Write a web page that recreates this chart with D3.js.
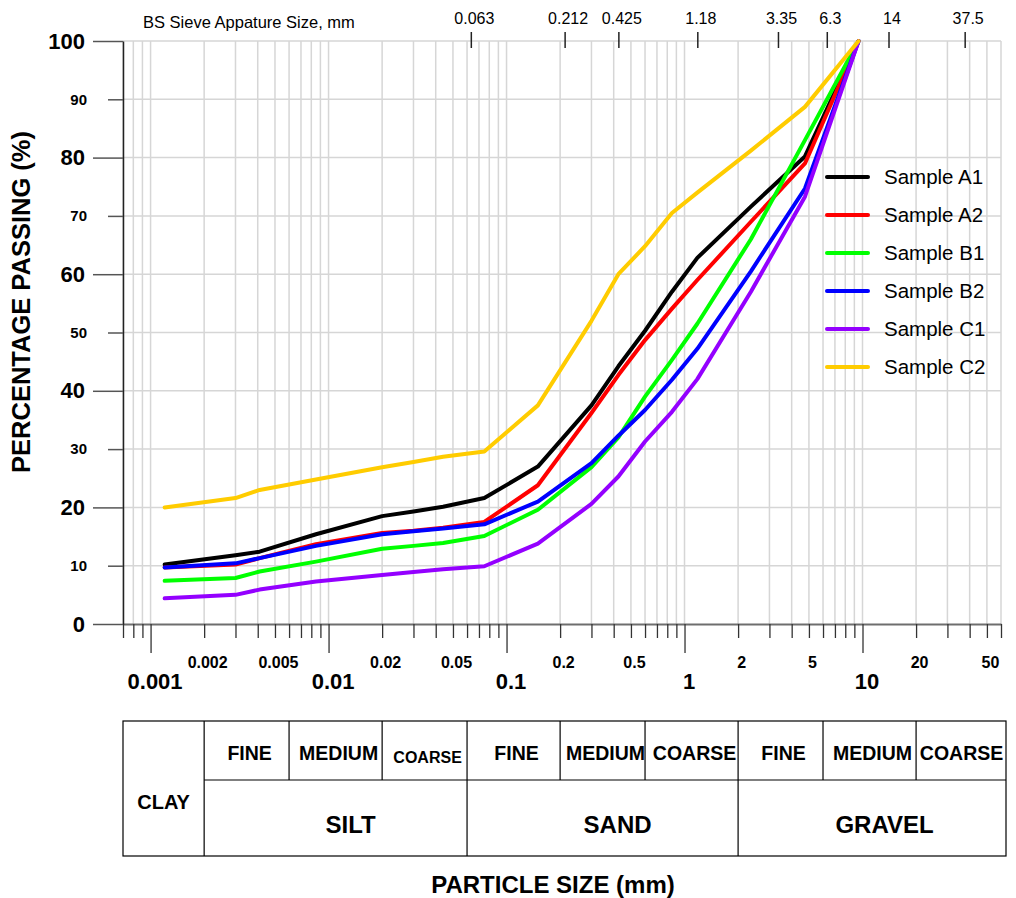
<!DOCTYPE html>
<html>
<head>
<meta charset="utf-8">
<script src="https://cdn.jsdelivr.net/npm/d3@7"></script>
<style>
  body { margin: 0; background: #fff; }
  svg { display: block; font-family: "Liberation Sans", Arial, sans-serif; }
</style>
</head>
<body>
<div class="viz"></div>
<script>
// particle sizes (mm) of the readings, hydrometer then sieves
var sizes = [0.0012, 0.003, 0.0041, 0.0085, 0.02, 0.03, 0.044, 0.075, 0.15, 0.3, 0.425, 0.6, 0.85, 1.18, 2.36, 4.75, 9.5];

var sampleA1 = [10.2, 11.8, 12.4, 15.4, 18.5, 19.3, 20.1, 21.6, 27.0, 37.5, 44.2, 50.3, 57.0, 62.8, 71.6, 80.2, 100];
var sampleA2 = [9.7, 10.2, 11.3, 13.7, 15.6, 16.0, 16.5, 17.5, 23.8, 36.2, 42.7, 48.7, 54.1, 59.0, 69.0, 79.0, 100];
var sampleB1 = [7.4, 7.9, 9.0, 10.7, 12.9, 13.4, 13.9, 15.1, 19.6, 26.9, 32.0, 39.0, 45.3, 51.5, 66.0, 83.0, 100];
var sampleB2 = [9.7, 10.4, 11.3, 13.4, 15.4, 15.9, 16.4, 17.1, 21.0, 27.6, 32.3, 36.7, 41.9, 47.2, 60.5, 74.7, 100];
var sampleC1 = [4.4, 5.0, 5.9, 7.3, 8.4, 8.9, 9.4, 9.9, 13.8, 20.6, 25.3, 31.3, 36.4, 42.0, 57.0, 73.3, 100];
var sampleC2 = [20.0, 21.6, 23.0, 24.8, 26.9, 27.8, 28.7, 29.6, 37.5, 52.0, 60.0, 64.8, 70.5, 74.0, 81.2, 88.7, 100];

var seriesNames = ["Sample A1", "Sample A2", "Sample B1", "Sample B2", "Sample C1", "Sample C2"];
var seriesColors = ["#000000", "#ff0000", "#00ff00", "#0000ff", "#9400ff", "#ffcc00"];
var seriesValues = [sampleA1, sampleA2, sampleB1, sampleB2, sampleC1, sampleC2];

// BS sieve apertures on the top axis
var sieveSizes = [0.063, 0.212, 0.425, 1.18, 3.35, 6.3, 14, 37.5];
var sieveLabels = ["0.063", "0.212", "0.425", "1.18", "3.35", "6.3", "14", "37.5"];

var decadeTicks = [0.001, 0.01, 0.1, 1, 10];
var decadeLabels = ["0.001", "0.01", "0.1", "1", "10"];
var minorLabelTicks = [0.002, 0.005, 0.02, 0.05, 0.2, 0.5, 2, 5, 20, 50];
var minorLabels = ["0.002", "0.005", "0.02", "0.05", "0.2", "0.5", "2", "5", "20", "50"];

var yMajorTicks = [0, 20, 40, 60, 80, 100];
var yMinorTicks = [10, 30, 50, 70, 90];

// soil classification table
var mainNames = ["CLAY", "SILT", "SAND", "GRAVEL"];
var mainBounds = [0.0007, 0.002, 0.06, 2, 60];
var subNames = ["FINE", "MEDIUM", "COARSE", "FINE", "MEDIUM", "COARSE", "FINE", "MEDIUM", "COARSE"];
var subBounds = [0.002, 0.006, 0.02, 0.06, 0.2, 0.6, 2, 6, 20, 60];

var width = 1016, height = 898;
var plot = { left: 123, right: 1001, top: 41, bottom: 624 };

var x = d3.scaleLog().domain([0.0007, 60]).range([plot.left, plot.right]);
var y = d3.scaleLinear().domain([0, 100]).range([plot.bottom, plot.top]);

var gridX = [];
for (var e = -4; e <= 1; e++) {
  for (var m = 1; m <= 9; m++) {
    var v = +(m * Math.pow(10, e)).toPrecision(3);
    if (v >= 0.0007 && v <= 60) gridX.push(v);
  }
}

var svg = d3.select(".viz").append("svg")
  .attr("width", width)
  .attr("height", height);

// grid
svg.append("g").selectAll("line")
  .data(gridX).enter().append("line")
  .attr("x1", function (d) { return x(d); })
  .attr("x2", function (d) { return x(d); })
  .attr("y1", plot.top).attr("y2", plot.bottom)
  .attr("stroke", "#d6d6d6").attr("stroke-width", 1.5);

svg.append("g").selectAll("line")
  .data(d3.range(10, 101, 10)).enter().append("line")
  .attr("x1", plot.left).attr("x2", plot.right)
  .attr("y1", function (d) { return y(d); })
  .attr("y2", function (d) { return y(d); })
  .attr("stroke", "#d6d6d6").attr("stroke-width", 1.5);

// bottom axis: ticks
var minorTicks = gridX.filter(function (d) { return decadeTicks.indexOf(d) < 0; });

var xMinor = svg.append("g")
  .attr("transform", "translate(0," + plot.bottom + ")")
  .call(d3.axisBottom(x).tickValues(minorTicks).tickSize(14).tickSizeOuter(0).tickFormat(""));
xMinor.select(".domain").attr("stroke", "#6e6e6e").attr("stroke-width", 2);
xMinor.selectAll(".tick line").attr("stroke", "#333").attr("stroke-width", 1.3);

var xMajor = svg.append("g")
  .attr("transform", "translate(0," + plot.bottom + ")")
  .call(d3.axisBottom(x).tickValues(decadeTicks).tickSize(29).tickPadding(20)
    .tickFormat(function (d, i) { return decadeLabels[i]; }));
xMajor.select(".domain").remove();
xMajor.selectAll(".tick line").attr("stroke", "#333").attr("stroke-width", 1.3);
xMajor.selectAll("text")
  .attr("font-size", 22).attr("font-weight", "bold").attr("fill", "#000")
  .attr("font-family", "Liberation Sans, Arial, sans-serif").attr("dx", 4);

var xMinorLab = svg.append("g")
  .attr("transform", "translate(0," + plot.bottom + ")")
  .call(d3.axisBottom(x).tickValues(minorLabelTicks).tickSize(0).tickPadding(33)
    .tickFormat(function (d, i) { return minorLabels[i]; }));
xMinorLab.select(".domain").remove();
xMinorLab.selectAll("text")
  .attr("font-size", 16).attr("font-weight", "bold").attr("fill", "#000")
  .attr("font-family", "Liberation Sans, Arial, sans-serif").attr("dx", 3);

// top axis: sieve sizes
var xTop = svg.append("g")
  .attr("transform", "translate(0,48)")
  .call(d3.axisTop(x).tickValues(sieveSizes).tickSize(16).tickPadding(8)
    .tickFormat(function (d, i) { return sieveLabels[i]; }));
xTop.select(".domain").remove();
xTop.selectAll(".tick line").attr("stroke", "#222").attr("stroke-width", 1.5);
xTop.selectAll("text")
  .attr("font-size", 16).attr("fill", "#000")
  .attr("font-family", "Liberation Sans, Arial, sans-serif").attr("dx", 3);

svg.append("text")
  .attr("x", 143).attr("y", 28)
  .attr("font-size", 16.5)
  .text("BS Sieve Appature Size, mm");

// left axis
var yMaj = svg.append("g")
  .attr("transform", "translate(" + plot.left + ",0)")
  .call(d3.axisLeft(y).tickValues(yMajorTicks).tickSize(30).tickSizeOuter(0).tickPadding(8));
yMaj.select(".domain").attr("stroke", "#222").attr("stroke-width", 1.5);
yMaj.selectAll(".tick line").attr("stroke", "#555").attr("stroke-width", 1.5);
yMaj.selectAll("text")
  .attr("font-size", 22).attr("font-weight", "bold").attr("fill", "#000")
  .attr("font-family", "Liberation Sans, Arial, sans-serif");

var yMin = svg.append("g")
  .attr("transform", "translate(" + plot.left + ",0)")
  .call(d3.axisLeft(y).tickValues(yMinorTicks).tickSize(15).tickPadding(21));
yMin.select(".domain").remove();
yMin.selectAll(".tick line").attr("stroke", "#555").attr("stroke-width", 1.5);
yMin.selectAll("text")
  .attr("font-size", 15).attr("font-weight", "bold").attr("fill", "#000")
  .attr("font-family", "Liberation Sans, Arial, sans-serif");

svg.append("text")
  .attr("transform", "translate(30,302) rotate(-90)")
  .attr("text-anchor", "middle")
  .attr("font-size", 25.5).attr("font-weight", "bold")
  .text("PERCENTAGE PASSING (%)");

// curves
var line = d3.line()
  .x(function (d) { return x(d[0]); })
  .y(function (d) { return y(d[1]); });

svg.append("g").selectAll("path")
  .data(seriesValues).enter().append("path")
  .attr("d", function (vals) { return line(vals.map(function (val, i) { return [sizes[i], val]; })); })
  .attr("fill", "none")
  .attr("stroke", function (d, i) { return seriesColors[i]; })
  .attr("stroke-width", 4)
  .attr("stroke-linejoin", "round")
  .attr("stroke-linecap", "round");

// legend
var legend = svg.append("g").selectAll("g")
  .data(seriesNames).enter().append("g")
  .attr("transform", function (d, i) { return "translate(0," + (177 + i * 38) + ")"; });

legend.append("line")
  .attr("x1", 827).attr("x2", 868)
  .attr("stroke", function (d, i) { return seriesColors[i]; })
  .attr("stroke-width", 4)
  .attr("stroke-linecap", "round");

legend.append("text")
  .attr("x", 884).attr("dy", "0.35em")
  .attr("font-size", 20.5)
  .text(function (d) { return d; });

// classification table
var tTop = 721, tMid = 780, tBot = 856;
var table = svg.append("g").attr("stroke", "#000").attr("stroke-width", 1.2);

table.append("rect")
  .attr("x", x(mainBounds[0])).attr("y", tTop)
  .attr("width", x(mainBounds[4]) - x(mainBounds[0]) + 5)
  .attr("height", tBot - tTop)
  .attr("fill", "none");

table.append("line")
  .attr("x1", x(mainBounds[1])).attr("x2", x(mainBounds[4]) + 5)
  .attr("y1", tMid).attr("y2", tMid);

table.selectAll(".mainsep")
  .data(mainBounds.slice(1, 4)).enter().append("line")
  .attr("x1", function (d) { return x(d); })
  .attr("x2", function (d) { return x(d); })
  .attr("y1", tTop).attr("y2", tBot);

table.selectAll(".subsep")
  .data(subBounds.filter(function (d) { return mainBounds.indexOf(d) < 0; })).enter().append("line")
  .attr("x1", function (d) { return x(d); })
  .attr("x2", function (d) { return x(d); })
  .attr("y1", tTop).attr("y2", tMid);

svg.append("g").selectAll("text")
  .data(subNames).enter().append("text")
  .attr("x", function (d, i) { return (x(subBounds[i]) + x(subBounds[i + 1])) / 2 + 3; })
  .attr("y", function (d, i) { return i === 2 ? 763 : 760; })
  .attr("text-anchor", "middle")
  .attr("font-size", function (d, i) { return i === 2 ? 16 : 19.5; })
  .attr("font-weight", "bold")
  .text(function (d) { return d; });

svg.append("g").selectAll("text")
  .data(mainNames).enter().append("text")
  .attr("x", function (d, i) {
    var cx = (x(mainBounds[i]) + x(mainBounds[i + 1])) / 2;
    return i === 0 ? cx : cx + 15;
  })
  .attr("y", function (d, i) { return i === 0 ? 809 : 833; })
  .attr("text-anchor", "middle")
  .attr("font-size", function (d, i) { return i === 0 ? 20 : 24; })
  .attr("font-weight", "bold")
  .text(function (d) { return d; });

svg.append("text")
  .attr("x", 553).attr("y", 893)
  .attr("text-anchor", "middle")
  .attr("font-size", 24).attr("font-weight", "bold")
  .text("PARTICLE SIZE (mm)");
</script>
</body>
</html>
